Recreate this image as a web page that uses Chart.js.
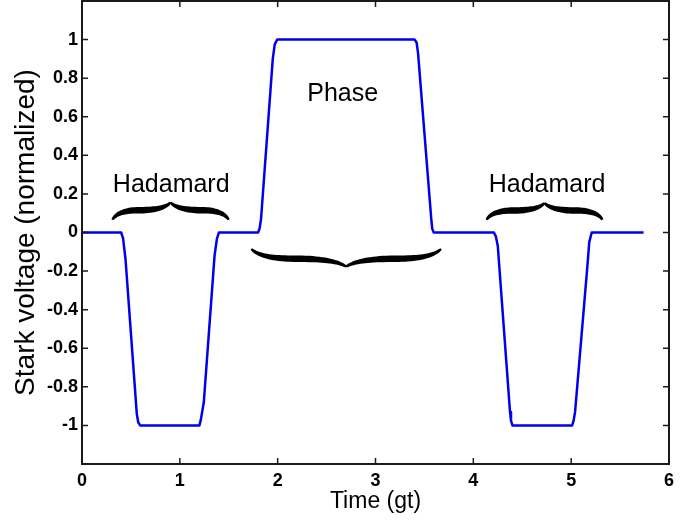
<!DOCTYPE html>
<html>
<head>
<meta charset="utf-8">
<script src="https://cdn.jsdelivr.net/npm/chart.js@4"></script>
<style>
    html, body { margin: 0; padding: 0; background: #fff; }
    #wrap { width: 699px; height: 520px; }
</style>
</head>
<body>
<div id="wrap"><canvas id="starkChart" width="699" height="520"></canvas></div>
<script>
// Pulse sequence (time in gt, normalized voltage)
const timeValues = [
    0, 0.40, 0.42, 0.445, 0.56, 0.575, 0.595,
    1.20, 1.215, 1.245, 1.355, 1.38, 1.40,
    1.80, 1.815, 1.83, 1.95, 1.97, 1.995,
    3.40, 3.42, 3.435, 3.57, 3.58, 3.595,
    4.21, 4.23, 4.25, 4.375, 4.385, 4.40,
    5.01, 5.025, 5.04, 5.165, 5.185, 5.21, 5.74
];
const voltageValues = [
    0, 0, -0.03, -0.14, -0.94, -0.985, -1,
    -1, -0.97, -0.88, -0.12, -0.03, 0,
    0, 0.02, 0.07, 0.90, 0.975, 1,
    1, 0.985, 0.93, 0.07, 0.02, 0,
    0, -0.02, -0.07, -0.93, -0.975, -1,
    -1, -0.975, -0.93, -0.18, -0.05, 0, 0
];

const xTickValues = [0, 1, 2, 3, 4, 5, 6];
const yTickValues = [-1, -0.8, -0.6, -0.4, -0.2, 0, 0.2, 0.4, 0.6, 0.8, 1];

// Curly-brace annotations (data units)
const braceFrom = [0.31, 1.73, 4.135];
const braceTo = [1.50, 3.67, 5.32];
const braceEndY = [0.066, -0.085, 0.066];
const braceTipY = [0.156, -0.177, 0.153];

// Text labels (data units, baseline)
const labelText = ["Hadamard", "Phase", "Hadamard"];
const labelX = [0.912, 2.665, 4.754];
const labelY = [0.212, 0.681, 0.212];

const FONT = "'Liberation Sans', Arial, sans-serif";

function quadPts(p0, c, p1, n) {
    const out = [];
    for (let i = 0; i <= n; i++) {
        const t = i / n, u = 1 - t;
        out.push({
            x: u * u * p0.x + 2 * u * t * c.x + t * t * p1.x,
            y: u * u * p0.y + 2 * u * t * c.y + t * t * p1.y
        });
    }
    return out;
}

// fills a tapered stroke along pts: thin at both ends, thick in the middle
function taperedStroke(ctx, pts, wMin, wMax) {
    const lens = [0];
    for (let i = 1; i < pts.length; i++) {
        lens.push(lens[i - 1] + Math.hypot(pts[i].x - pts[i - 1].x, pts[i].y - pts[i - 1].y));
    }
    const total = lens[lens.length - 1];
    const left = [], right = [];
    pts.forEach((p, i) => {
        const a = pts[Math.max(0, i - 1)], b = pts[Math.min(pts.length - 1, i + 1)];
        const dx = b.x - a.x, dy = b.y - a.y, d = Math.hypot(dx, dy) || 1;
        const nx = -dy / d, ny = dx / d;
        const t = lens[i] / total;
        const w = wMin + (wMax - wMin) * Math.pow(Math.sin(Math.PI * t), 0.7);
        left.push({ x: p.x + nx * w / 2, y: p.y + ny * w / 2 });
        right.push({ x: p.x - nx * w / 2, y: p.y - ny * w / 2 });
    });
    ctx.beginPath();
    ctx.moveTo(left[0].x, left[0].y);
    left.forEach(p => ctx.lineTo(p.x, p.y));
    right.reverse().forEach(p => ctx.lineTo(p.x, p.y));
    ctx.closePath();
    ctx.fill();
}

const framePlugin = {
    id: "frame",
    afterDatasetsDraw(chart) {
        const { ctx, chartArea: a, scales: { x, y } } = chart;
        ctx.save();
        ctx.strokeStyle = "#1a1a1a";
        ctx.lineWidth = 2;
        ctx.strokeRect(a.left, a.top, a.right - a.left, a.bottom - a.top);

        // inward ticks on all four sides
        const len = 6;
        ctx.lineWidth = 1.5;
        ctx.beginPath();
        xTickValues.forEach(v => {
            const px = x.getPixelForValue(v);
            ctx.moveTo(px, a.bottom); ctx.lineTo(px, a.bottom - len);
            ctx.moveTo(px, a.top); ctx.lineTo(px, a.top + len);
        });
        yTickValues.forEach(v => {
            const py = y.getPixelForValue(v);
            ctx.moveTo(a.left, py); ctx.lineTo(a.left + len, py);
            ctx.moveTo(a.right, py); ctx.lineTo(a.right - len, py);
        });
        ctx.stroke();

        // braces
        ctx.fillStyle = "#000";
        braceFrom.forEach((b, i) => {
            const x1 = x.getPixelForValue(b);
            const x2 = x.getPixelForValue(braceTo[i]);
            const yEnd = y.getPixelForValue(braceEndY[i]);
            const yTip = y.getPixelForValue(braceTipY[i]);
            const xm = (x1 + x2) / 2;
            const hw = (x2 - x1) / 2;
            const ya = yEnd + (yTip - yEnd) * 0.55;
            const leftHalf = quadPts({ x: x1, y: yEnd }, { x: x1 + 0.1 * hw, y: ya }, { x: x1 + 0.45 * hw, y: ya }, 20)
                .concat(quadPts({ x: x1 + 0.45 * hw, y: ya }, { x: xm - 0.12 * hw, y: ya }, { x: xm, y: yTip }, 20).slice(1));
            const rightHalf = quadPts({ x: xm, y: yTip }, { x: xm + 0.12 * hw, y: ya }, { x: x2 - 0.45 * hw, y: ya }, 20)
                .concat(quadPts({ x: x2 - 0.45 * hw, y: ya }, { x: x2 - 0.1 * hw, y: ya }, { x: x2, y: yEnd }, 20).slice(1));
            taperedStroke(ctx, leftHalf, 2, 6.5);
            taperedStroke(ctx, rightHalf, 2, 6.5);
        });

        // labels
        ctx.font = "25px " + FONT;
        ctx.textAlign = "center";
        ctx.textBaseline = "alphabetic";
        labelText.forEach((t, i) => {
            ctx.fillText(t, x.getPixelForValue(labelX[i]), y.getPixelForValue(labelY[i]));
        });
        ctx.restore();
    }
};

const ctx = document.getElementById("starkChart").getContext("2d");
new Chart(ctx, {
    type: "line",
    data: {
        datasets: [{
            data: timeValues.map((t, i) => ({ x: t, y: voltageValues[i] })),
            borderColor: "#0000ee",
            borderWidth: 2.5,
            borderJoinStyle: "round",
            pointRadius: 0,
            tension: 0,
            fill: false
        }]
    },
    options: {
        responsive: false,
        devicePixelRatio: 1,
        animation: false,
        layout: { padding: { top: 1, right: 30, left: 0, bottom: 0 } },
        plugins: { legend: { display: false }, tooltip: { enabled: false } },
        scales: {
            x: {
                type: "linear",
                min: 0,
                max: 6,
                afterBuildTicks: s => { s.ticks = xTickValues.map(v => ({ value: v })); },
                afterFit: s => { s.height = 56; s.paddingLeft = 0; s.paddingRight = 0; },
                grid: { display: false, drawTicks: false },
                border: { display: false },
                ticks: {
                    color: "#000",
                    padding: 6,
                    maxRotation: 0,
                    font: { family: FONT, size: 18, weight: "bold" },
                    callback: v => String(v)
                },
                title: {
                    display: true,
                    text: "Time (gt)",
                    color: "#000",
                    padding: { top: 0, bottom: 5 },
                    font: { family: FONT, size: 23 }
                }
            },
            y: {
                min: -1.2,
                max: 1.2,
                afterBuildTicks: s => { s.ticks = yTickValues.map(v => ({ value: v })); },
                afterFit: s => { s.width = 82; s.paddingTop = 0; s.paddingBottom = 0; },
                grid: { display: false, drawTicks: false },
                border: { display: false },
                ticks: {
                    color: "#000",
                    padding: 4,
                    font: { family: FONT, size: 18, weight: "bold" },
                    callback: v => String(v)
                },
                title: {
                    display: true,
                    text: "Stark voltage (normalized)",
                    color: "#000",
                    padding: { top: 9, bottom: 0 },
                    font: { family: FONT, size: 28 }
                }
            }
        }
    },
    plugins: [framePlugin]
});
</script>
</body>
</html>
